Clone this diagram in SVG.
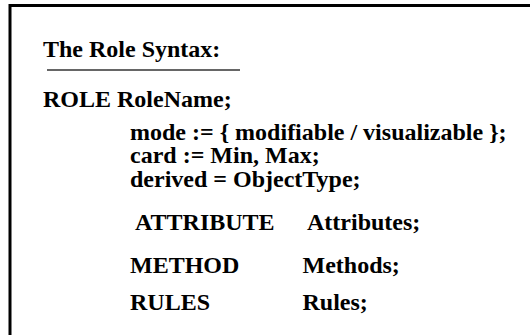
<svg xmlns="http://www.w3.org/2000/svg" width="530" height="335" viewBox="0 0 530 335">
<style>
text{font-family:"Liberation Serif","Times New Roman",serif;font-weight:bold;font-size:24px;fill:#000}
</style>
<rect width="530" height="335" fill="#fff"/>
<g id="frame">
<path d="M10,335 V5.5 H530" fill="none" stroke="#000" stroke-width="3"/>
</g>
<g id="title">
<text x="43" y="56.5">The Role Syntax:</text>
<line x1="47" y1="70" x2="240" y2="70" stroke="#333" stroke-width="1.5"/>
</g>
<g id="role">
<text x="43" y="106.5">ROLE RoleName;</text>
</g>
<g id="properties">
<text x="130" y="140">mode := { modifiable / visualizable };<tspan x="130" dy="23">card := Min, Max;</tspan><tspan x="130" dy="23.5">derived = ObjectType;</tspan></text>
</g>
<g id="sections">
<text x="135" y="230">ATTRIBUTE</text>
<text x="307" y="230">Attributes;</text>
<text x="130" y="272.5">METHOD</text>
<text x="302.5" y="272.5">Methods;</text>
<text x="130" y="309.5">RULES</text>
<text x="302.5" y="309.5">Rules;</text>
</g>
</svg>
